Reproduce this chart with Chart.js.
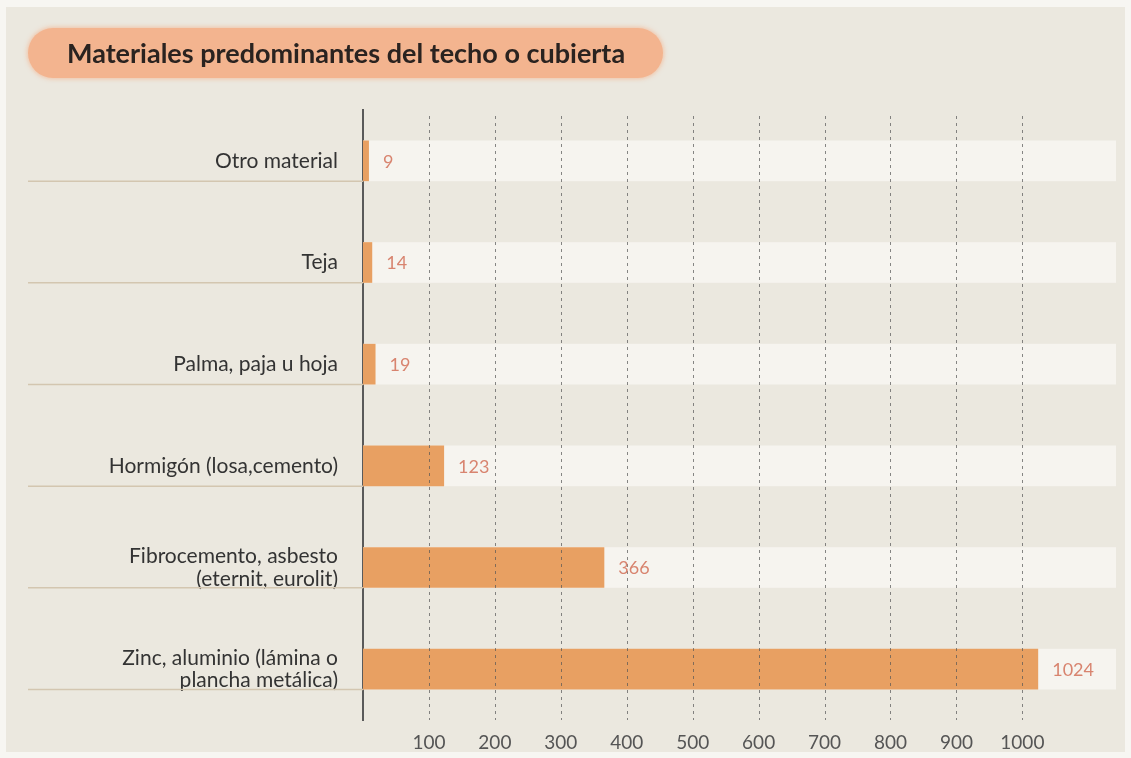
<!DOCTYPE html>
<html>
<head>
<meta charset="utf-8">
<script src="https://cdn.jsdelivr.net/npm/chart.js@4"></script>
<style>
  html, body { margin: 0; padding: 0; background: #f7f6f2; }
  #wrap { position: relative; width: 1131px; height: 758px; overflow: hidden; }
  #panel { position: absolute; left: 6px; top: 7px; width: 1119px; height: 745px; background: #ebe8df; }
  #chart { position: absolute; left: 0; top: 0; }
  #title {
    position: absolute; left: 28px; top: 28px; width: 635px; height: 50px;
    border-radius: 25px; background: #f3b48f;
    box-shadow: 0 0 4px 1px rgba(243,180,143,0.7);
    font-family: Lato, "Open Sans", sans-serif; font-weight: bold; font-size: 27px;
    color: #2a2320; line-height: 50px; padding-left: 39px; box-sizing: border-box;
    white-space: nowrap;
  }
</style>
</head>
<body>
<div id="wrap">
  <div id="panel"></div>
  <canvas id="chart" width="1131" height="758"></canvas>
  <div id="title">Materiales predominantes del techo o cubierta</div>
</div>
<script>
const categories = [
  "Otro material",
  "Teja",
  "Palma, paja u hoja",
  "Hormigón (losa,cemento)",
  ["Fibrocemento, asbesto", "(eternit, eurolit)"],
  ["Zinc, aluminio (lámina o", "plancha metálica)"]
];
const values = [9, 14, 19, 123, 366, 1024];
const xTicks = [100, 200, 300, 400, 500, 600, 700, 800, 900, 1000];
const xMax = 1142;

const FONT = 'Lato, "Open Sans", sans-serif';

const decorPlugin = {
  id: 'decor',
  beforeDatasetsDraw(chart) {
    const ctx = chart.ctx, area = chart.chartArea;
    const meta = chart.getDatasetMeta(0);
    ctx.save();
    meta.data.forEach(bar => {
      const h = bar.height;
      ctx.fillStyle = '#f6f4ef';
      ctx.fillRect(area.left, bar.y - h / 2, area.right - area.left, h);
      ctx.strokeStyle = '#d3c6b0';
      ctx.lineWidth = 1.5;
      ctx.beginPath();
      ctx.moveTo(28, bar.y + h / 2);
      ctx.lineTo(area.left, bar.y + h / 2);
      ctx.stroke();
    });
    ctx.restore();
  },
  afterDatasetsDraw(chart) {
    const ctx = chart.ctx, area = chart.chartArea;
    const xs = chart.scales.x;
    ctx.save();
    // dashed grid lines drawn over strips and bars
    ctx.strokeStyle = 'rgba(85,85,85,0.7)';
    ctx.lineWidth = 1;
    ctx.setLineDash([3, 4]);
    xs.ticks.forEach(t => {
      const px = Math.round(xs.getPixelForValue(t.value)) + 0.5;
      ctx.beginPath();
      ctx.moveTo(px, area.top + 6);
      ctx.lineTo(px, area.bottom);
      ctx.stroke();
    });
    ctx.setLineDash([]);
    // value labels
    const meta = chart.getDatasetMeta(0);
    ctx.font = '18px ' + FONT;
    ctx.fillStyle = '#d8846f';
    ctx.textAlign = 'left';
    ctx.textBaseline = 'middle';
    meta.data.forEach((bar, i) => {
      ctx.fillText(String(values[i]), bar.x + 14, bar.y + 1);
    });
    ctx.restore();
  }
};

new Chart(document.getElementById('chart'), {
  type: 'bar',
  data: {
    labels: categories,
    datasets: [{
      data: values,
      backgroundColor: '#e8a062',
      borderWidth: 0,
      categoryPercentage: 1,
      barPercentage: 0.4
    }]
  },
  options: {
    indexAxis: 'y',
    responsive: false,
    animation: false,
    layout: { padding: { top: 110, right: 15, bottom: 0, left: 0 } },
    plugins: { legend: { display: false }, tooltip: { enabled: false }, title: { display: false } },
    scales: {
      x: {
        min: 0, max: xMax,
        afterBuildTicks: axis => { axis.ticks = xTicks.map(v => ({ value: v })); },
        afterFit: axis => { axis.height = 38; },
        grid: { display: false, drawTicks: false },
        border: { display: false },
        ticks: { padding: 11, color: '#555', font: { family: FONT, size: 19 }, callback: v => String(v) }
      },
      y: {
        afterFit: axis => { axis.width = 363; },
        grid: { display: false, drawTicks: false },
        border: { display: true, color: '#5a5a5a', width: 2 },
        ticks: { padding: 25, color: '#333', font: { family: FONT, size: 21, lineHeight: 1.08 } }
      }
    }
  },
  plugins: [decorPlugin]
});
</script>
</body>
</html>
